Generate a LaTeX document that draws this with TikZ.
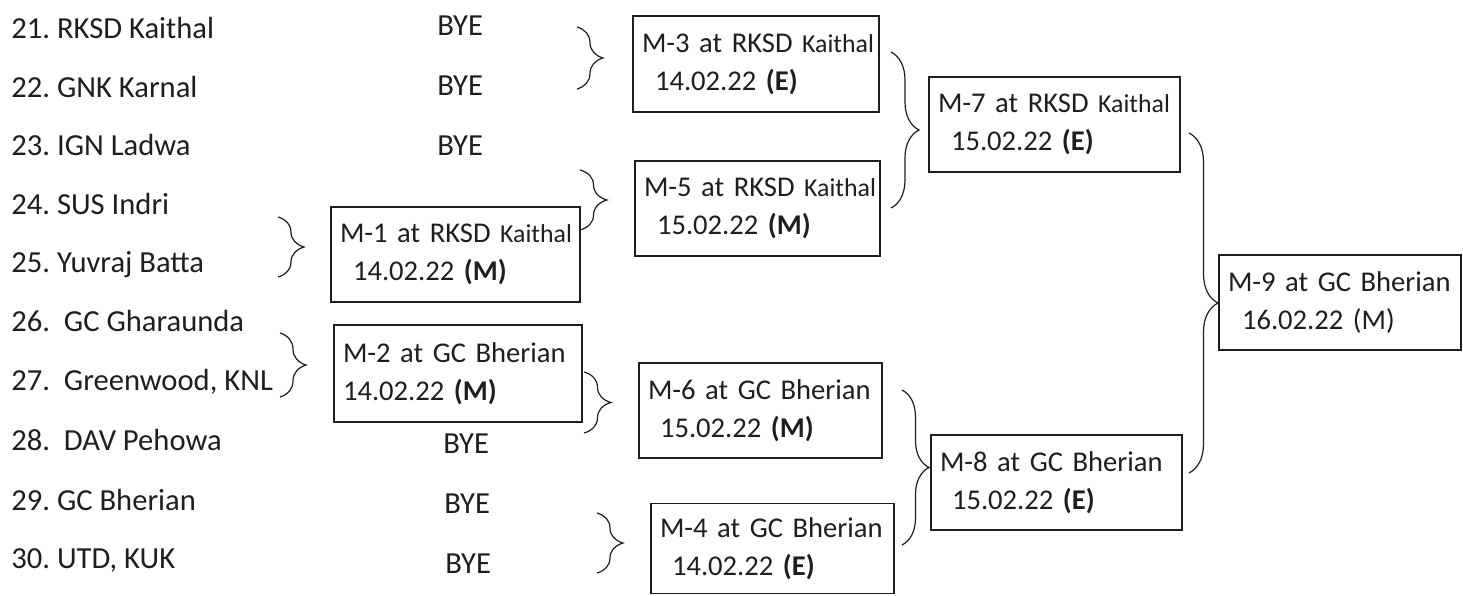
\documentclass[tikz,border=0pt]{standalone}
\usepackage{fontspec}
\usepackage{graphicx}
\setmainfont{Carlito}
\usetikzlibrary{decorations.pathreplacing}
\definecolor{ink}{RGB}{30,30,30}
\newcommand{\ksm}{{\fontsize{12.9}{19}\selectfont Kaithal}}
\frenchspacing
\begin{document}
\begin{tikzpicture}[x=0.5pt,y=-0.5pt,
  every node/.style={text=ink},
  team/.style={anchor=base west, inner sep=0pt, font=\fontsize{15.3}{18.5}\selectfont},
  byenode/.style={anchor=base west, inner sep=0pt, font=\fontsize{15.3}{18.5}\selectfont},
  match/.style={draw=ink, line width=0.9pt, align=left, inner xsep=4.5pt, inner ysep=0pt,
    font=\fontsize{14.3}{19}\selectfont},
  brc/.style={draw=ink, line width=0.6pt, decorate},
]
\useasboundingbox (0,0) rectangle (1463,595);

% teams
\node[team] (t21) at (11,38)  {21. RKSD Kaithal};
\node[team] (t22) at (11,97)  {22. GNK Karnal};
\node[team] (t23) at (11,155) {23. IGN Ladwa};
\node[team] (t24) at (11,214) {24. SUS Indri};
\node[team] (t25) at (11,272) {25. Yuvraj Batta};
\node[team] (t26) at (11,331) {26.\ \ GC Gharaunda};
\node[team] (t27) at (11,390) {27.\ \ Greenwood, KNL};
\node[team] (t28) at (11,450) {28.\ \ DAV Pehowa};
\node[team] (t29) at (11,510) {29. GC Bherian};
\node[team] (t30) at (11,568) {30. UTD, KUK};

% byes
\node[byenode] (b21) at (437,35)  {BYE};
\node[byenode] (b22) at (437,95)  {BYE};
\node[byenode] (b23) at (437,155) {BYE};
\node[byenode] (b28) at (443,453) {BYE};
\node[byenode] (b29) at (444,513) {BYE};
\node[byenode] (b30) at (445,573) {BYE};

% matches
\node[match, minimum width=124.5pt, text width=115.5pt, minimum height=47.5pt] (m1) at (455.5,254.5)
  {\mbox{M-1 at RKSD \ksm}\\\hspace*{6.5pt}14.02.22 \textbf{(M)}};
\node[match, minimum width=124pt, text width=115pt, minimum height=48.5pt] (m2) at (458,373.5)
  {\mbox{M-2 at GC Bherian}\\14.02.22 \textbf{(M)}};
\node[match, minimum width=123pt, text width=114pt, minimum height=48pt] (m3) at (756,64)
  {\mbox{M-3 at RKSD \ksm}\\\hspace*{6.5pt}14.02.22 \textbf{(E)}};
\node[match, minimum width=122.5pt, text width=113.5pt, minimum height=47.5pt] (m5) at (757.5,208.5)
  {\mbox{M-5 at RKSD \ksm}\\\hspace*{6.5pt}15.02.22 \textbf{(M)}};
\node[match, minimum width=121.5pt, text width=112.5pt, minimum height=47.5pt] (m6) at (760.5,410.5)
  {\mbox{M-6 at GC Bherian}\\\hspace*{6pt}15.02.22 \textbf{(M)}};
\node[match, minimum width=121.5pt, text width=112.5pt, minimum height=45pt] (m4) at (772.5,548.5)
  {\mbox{M-4 at GC Bherian}\\\hspace*{6pt}14.02.22 \textbf{(E)}};
\node[match, minimum width=125.5pt, text width=116.5pt, minimum height=47.5pt] (m7) at (1054.5,124.5)
  {\mbox{M-7 at RKSD \ksm}\\\hspace*{6.5pt}15.02.22 \textbf{(E)}};
\node[match, minimum width=125.5pt, text width=116.5pt, minimum height=47.5pt] (m8) at (1056.5,482.5)
  {\mbox{M-8 at GC Bherian}\\\hspace*{6pt}15.02.22 \textbf{(E)}};
\node[match, minimum width=121pt, text width=112pt, minimum height=47.5pt] (m9) at (1340,302.5)
  {\mbox{M-9 at GC Bherian}\\\hspace*{7pt}16.02.22 (M)};

% brace end points
\coordinate (ca1) at (577,27);   \coordinate (ca2) at (577,89);
\coordinate (cb1) at (580,170);  \coordinate (cb2) at (580,230);
\coordinate (cc1) at (278,217);  \coordinate (cc2) at (278,277);
\coordinate (cd1) at (280,333);  \coordinate (cd2) at (280,397);
\coordinate (ce1) at (584,372);  \coordinate (ce2) at (584,433);
\coordinate (cf1) at (597,513);  \coordinate (cf2) at (597,573);
\coordinate (cg1) at (891,52);   \coordinate (cg2) at (891,208);
\coordinate (ch1) at (1189,133); \coordinate (ch2) at (1189,473);
\coordinate (ci1) at (902,390);  \coordinate (ci2) at (902,545);

% braces
\draw[brc, decoration={brace, amplitude=13pt}]   (ca1) -- (ca2);
\draw[brc, decoration={brace, amplitude=13.5pt}] (cb1) -- (cb2);
\draw[brc, decoration={brace, amplitude=13pt}]   (cc1) -- (cc2);
\draw[brc, decoration={brace, amplitude=13pt}]   (cd1) -- (cd2);
\draw[brc, decoration={brace, amplitude=13.5pt}] (ce1) -- (ce2);
\draw[brc, decoration={brace, amplitude=13pt}]   (cf1) -- (cf2);
\draw[brc, decoration={brace, amplitude=14pt}]   (cg1) -- (cg2);
\draw[brc, decoration={brace, amplitude=14.5pt}] (ch1) -- (ch2);
\draw[brc, decoration={brace, amplitude=13.5pt}] (ci1) -- (ci2);
\end{tikzpicture}
\end{document}
